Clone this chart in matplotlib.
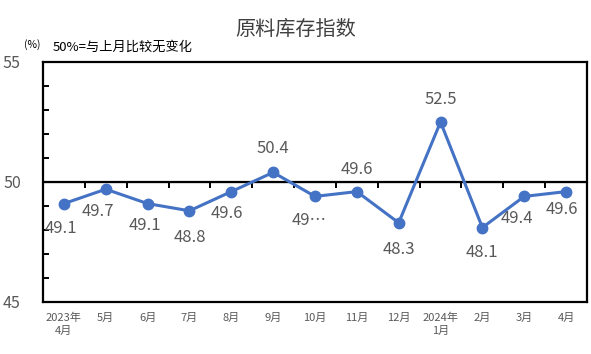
import matplotlib
matplotlib.use('Agg')
import matplotlib.pyplot as plt
import numpy as np
from matplotlib import ticker

plt.rcParams['font.family'] = ['Noto Sans CJK SC', 'DejaVu Sans']

months = ['2023年\n4月', '5月', '6月', '7月', '8月', '9月', '10月', '11月', '12月',
          '2024年\n1月', '2月', '3月', '4月']
values = [49.1, 49.7, 49.1, 48.8, 49.6, 50.4, 49.4, 49.6, 48.3, 52.5, 48.1, 49.4, 49.6]
labels = ['49.1', '49.7', '49.1', '48.8', '49.6', '50.4', '49…', '49.6', '48.3',
          '52.5', '48.1', '49.4', '49.6']
# label offsets in points (dx, dy)
offsets = [(-2, -18), (-6, -16), (-2, -16), (0, -19), (-3, -16), (0, 17),
           (-4, -17), (0, 16), (0, -19), (0, 16), (0, -18), (-5, -16), (-3, -13)]

gray = '#595959'
blue = '#4472C4'

fig = plt.figure(figsize=(5.91, 3.54), dpi=100)
ax = fig.add_axes([43/591, 52/354, 544/591, 240/354])

x = np.arange(len(values))
ax.plot(x, values, color=blue, lw=2.2, marker='o', ms=7.5, zorder=3)
for xi, v, lab, (dx, dy) in zip(x, values, labels, offsets):
    ax.annotate(lab, (xi, v), xytext=(dx, dy), textcoords='offset points',
                ha='center', va='center', fontsize=12, color=gray)

ax.set_xlim(-0.5, len(values) - 0.5)
ax.set_ylim(45, 55)
for s in ax.spines.values():
    s.set_linewidth(1.6)
    s.set_color('black')

ax.set_xticks(x)
ax.set_xticklabels(months, fontsize=8, color=gray, linespacing=1.3)
ax.tick_params(axis='x', length=0, pad=8)

ax.set_yticks([45, 50, 55])
ax.set_yticklabels(['45', '50', '55'], fontsize=11.5, color=gray)
ax.yaxis.set_minor_locator(ticker.FixedLocator([46, 47, 48, 49, 51, 52, 53, 54]))
ax.tick_params(axis='y', which='major', length=0, pad=16)
ax.tick_params(axis='y', which='minor', direction='in', length=4, width=1.4)

# 50 baseline with category ticks
ax.axhline(50, color='black', lw=1.6, zorder=2)
sec = ax.secondary_xaxis(0.5)
sec.spines['bottom'].set_visible(False)
sec.set_xticks(np.arange(0.5, len(values) - 1, 1))
sec.set_xticklabels([])
sec.tick_params(axis='x', direction='in', length=4, width=1.4)

fig.text(296/591, 1 - 29/354, '原料库存指数', ha='center', va='center', fontsize=14.5, color='#404040')
fig.text(24/591, 1 - 45/354, '(%)', ha='left', va='center', fontsize=7.5, color='black')
fig.text(53/591, 1 - 47/354, '50%=与上月比较无变化', ha='left', va='center', fontsize=9.5, color='black')

plt.savefig('out.png', dpi=100)
